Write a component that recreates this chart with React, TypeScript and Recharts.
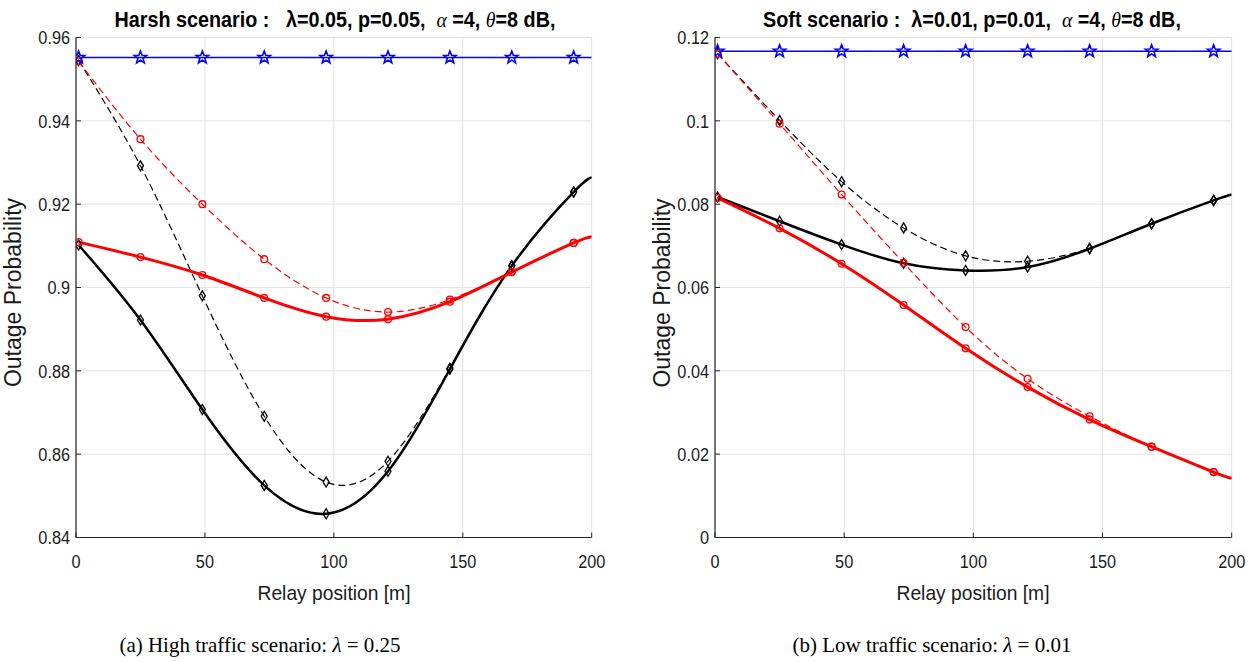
import React from 'react';
import { LineChart, Line, XAxis, YAxis, CartesianGrid } from 'recharts';

// ---------- data ----------
const xPositions = [1, 25, 49, 73, 97, 121, 145, 169, 193, 200];
const markerPositions = [1, 25, 49, 73, 97, 121, 145, 169, 193];

const xTicks = [0, 50, 100, 150, 200];
const xTickLabels = ['0', '50', '100', '150', '200'];

// (a) Harsh scenario
const harshYTicks = [0.84, 0.86, 0.88, 0.9, 0.92, 0.94, 0.96];
const harshYTickLabels = ['0.84', '0.86', '0.88', '0.9', '0.92', '0.94', '0.96'];
const harshBlue = [0.9552, 0.9552, 0.9552, 0.9552, 0.9552, 0.9552, 0.9552, 0.9552, 0.9552, 0.9552];
const harshRedDashed = [0.9543, 0.9356, 0.92, 0.9068, 0.8975, 0.8941, 0.8971, 0.9037, 0.9107, 0.9122];
const harshRedSolid = [0.9109, 0.9073, 0.903, 0.8975, 0.893, 0.8924, 0.8966, 0.9037, 0.9107, 0.9122];
const harshBlackSolid = [0.9102, 0.8922, 0.8707, 0.8525, 0.8457, 0.8559, 0.8804, 0.9052, 0.9229, 0.9264];
const harshBlackDashed = [0.9545, 0.9292, 0.898, 0.8691, 0.8533, 0.8583, 0.8806, 0.9052, 0.9229, 0.9264];

// (b) Soft scenario
const softYTicks = [0, 0.02, 0.04, 0.06, 0.08, 0.1, 0.12];
const softYTickLabels = ['0', '0.02', '0.04', '0.06', '0.08', '0.1', '0.12'];
const softBlue = [0.1167, 0.1167, 0.1167, 0.1167, 0.1167, 0.1167, 0.1167, 0.1167, 0.1167, 0.1167];
const softRedDashed = [0.1161, 0.0993, 0.0823, 0.0659, 0.0505, 0.0381, 0.0291, 0.0218, 0.0157, 0.0142];
const softRedSolid = [0.0815, 0.0742, 0.0657, 0.0558, 0.0454, 0.0361, 0.0283, 0.0218, 0.0157, 0.0142];
const softBlackSolid = [0.0817, 0.0759, 0.0703, 0.0658, 0.0641, 0.0649, 0.0693, 0.0753, 0.0809, 0.0823];
const softBlackDashed = [0.1161, 0.1001, 0.0854, 0.0743, 0.0676, 0.0663, 0.0694, 0.0753, 0.0809, 0.0823];

const buildRows = (blue: number[], rd: number[], rs: number[], bs: number[], bd: number[]) =>
  xPositions.map((x, i) => ({ x, blue: blue[i], rd: rd[i], rs: rs[i], bs: bs[i], bd: bd[i] }));

const harshRows = buildRows(harshBlue, harshRedDashed, harshRedSolid, harshBlackSolid, harshBlackDashed);
const softRows = buildRows(softBlue, softRedDashed, softRedSolid, softBlackSolid, softBlackDashed);

// ---------- styles ----------
const SANS = "'Liberation Sans', Arial, Helvetica, sans-serif";
const SERIF = "'Liberation Serif', 'Times New Roman', serif";
const AXIS = '#262626';
const GRID = '#e3e3e3';
const BLUE = '#0000ff';
const RED = '#ff0000';
const BLACK = '#000000';

const starPath = (cx: number, cy: number, R: number, r: number) => {
  const pts: string[] = [];
  for (let k = 0; k < 10; k++) {
    const rad = k % 2 === 0 ? R : r;
    const a = -Math.PI / 2 + (k * Math.PI) / 5;
    pts.push(`${(cx + rad * Math.cos(a)).toFixed(2)},${(cy + rad * Math.sin(a)).toFixed(2)}`);
  }
  return `M${pts.join('L')}Z`;
};

const makeDot = (kind: 'star' | 'circle' | 'diamond', color: string) => (props: any) => {
  const { cx, cy, payload, index } = props;
  const key = `dot-${kind}-${color}-${index}`;
  if (cx == null || cy == null || !payload || !markerPositions.includes(payload.x)) return <g key={key} />;
  if (kind === 'star')
    return <path key={key} d={starPath(cx, cy, 6.5, 2.7)} fill="none" stroke={color} strokeWidth={1.6} />;
  if (kind === 'circle')
    return <circle key={key} cx={cx} cy={cy} r={3.4} fill="none" stroke={color} strokeWidth={1.3} />;
  return (
    <path
      key={key}
      d={`M${cx},${cy - 5}L${cx + 3},${cy}L${cx},${cy + 5}L${cx - 3},${cy}Z`}
      fill="none"
      stroke={color}
      strokeWidth={1.3}
    />
  );
};

const makeYTick = (ticks: number[], labels: string[]) => (props: any) => {
  const { x, y, payload } = props;
  const i = ticks.findIndex((t) => Math.abs(t - payload.value) < 1e-9);
  return (
    <g>
      <line x1={x + 6} x2={x + 11} y1={y} y2={y} stroke={AXIS} strokeWidth={1} />
      <text
        x={0}
        y={0}
        dy="0.36em"
        transform={`translate(${x},${y}) scale(0.88,1)`}
        textAnchor="end"
        fontSize={18.5}
        fontFamily={SANS}
        fill="#1a1a1a"
      >
        {i >= 0 ? labels[i] : String(payload.value)}
      </text>
    </g>
  );
};

const XTick = (props: any) => {
  const { x, y, payload } = props;
  const i = xTicks.indexOf(payload.value);
  return (
    <g>
      <line x1={x} x2={x} y1={y - 6} y2={y - 11} stroke={AXIS} strokeWidth={1} />
      <text
        x={0}
        y={0}
        transform={`translate(${x},${y + 24.5}) scale(0.88,1)`}
        textAnchor="middle"
        fontSize={18.5}
        fontFamily={SANS}
        fill="#1a1a1a"
      >
        {i >= 0 ? xTickLabels[i] : String(payload.value)}
      </text>
    </g>
  );
};

type PanelProps = {
  rows: any[];
  yTicks: number[];
  yLabels: string[];
  left: number;
  width: number;
  marginLeft: number;
  marginRight: number;
};

const Panel = ({ rows, yTicks, yLabels, left, width, marginLeft, marginRight }: PanelProps) => (
  <div style={{ position: 'absolute', left, top: 0 }}>
    <LineChart
      width={width}
      height={600}
      data={rows}
      margin={{ top: 37.5, right: marginRight, left: marginLeft, bottom: 32.5 }}
    >
      <CartesianGrid stroke={GRID} strokeWidth={1} horizontalValues={yTicks} verticalValues={xTicks} />
      <XAxis
        type="number"
        dataKey="x"
        domain={[0, 200]}
        ticks={xTicks}
        allowDataOverflow
        height={30}
        tickSize={0}
        tickMargin={6}
        tickLine={false}
        axisLine={{ stroke: AXIS, strokeWidth: 1.2 }}
        tick={XTick}
        interval={0}
      />
      <YAxis
        type="number"
        domain={[yTicks[0], yTicks[yTicks.length - 1]]}
        ticks={yTicks}
        allowDataOverflow
        width={60}
        tickSize={0}
        tickMargin={6}
        tickLine={false}
        axisLine={{ stroke: AXIS, strokeWidth: 1.2 }}
        tick={makeYTick(yTicks, yLabels)}
        interval={0}
      />
      <Line
        type="natural"
        dataKey="bs"
        stroke={BLACK}
        strokeWidth={2.5}
        dot={makeDot('diamond', BLACK)}
        isAnimationActive={false}
      />
      <Line
        type="natural"
        dataKey="bd"
        stroke={BLACK}
        strokeWidth={1.2}
        strokeDasharray="7 4"
        dot={makeDot('diamond', BLACK)}
        isAnimationActive={false}
      />
      <Line
        type="natural"
        dataKey="rs"
        stroke={RED}
        strokeWidth={3}
        dot={makeDot('circle', RED)}
        isAnimationActive={false}
      />
      <Line
        type="natural"
        dataKey="rd"
        stroke={RED}
        strokeWidth={1.2}
        strokeDasharray="7 4"
        dot={makeDot('circle', RED)}
        isAnimationActive={false}
      />
      <Line
        type="linear"
        dataKey="blue"
        stroke={BLUE}
        strokeWidth={1.4}
        dot={makeDot('star', BLUE)}
        isAnimationActive={false}
      />
    </LineChart>
  </div>
);

const mathStyle = { fontStyle: 'italic', fontFamily: SERIF, fontWeight: 'normal' as const };

export default function App() {
  return (
    <div style={{ position: 'relative', width: 1255, height: 662, background: '#fff', overflow: 'hidden' }}>
      <style>{`body{margin:0;background:#fff}`}</style>
      <Panel
        rows={harshRows}
        yTicks={harshYTicks}
        yLabels={harshYTickLabels}
        left={0}
        width={620}
        marginLeft={16}
        marginRight={28.3}
      />
      <Panel
        rows={softRows}
        yTicks={softYTicks}
        yLabels={softYTickLabels}
        left={640}
        width={615}
        marginLeft={15}
        marginRight={23.3}
      />
      <svg
        width={1255}
        height={662}
        style={{ position: 'absolute', left: 0, top: 0, pointerEvents: 'none' }}
      >
        {/* titles */}
        <text
          transform="translate(335,27) scale(0.92,1)"
          textAnchor="middle"
          fontSize={21.5}
          fontWeight="bold"
          fontFamily={SANS}
          fill="#000"
          style={{ whiteSpace: 'pre' }}
        >
          {'Harsh scenario :   λ=0.05, p=0.05,  '}
          <tspan {...mathStyle}>α</tspan>
          {' =4, '}
          <tspan {...mathStyle}>θ</tspan>
          {'=8 dB,'}
        </text>
        <text
          transform="translate(972,27) scale(0.92,1)"
          textAnchor="middle"
          fontSize={21.5}
          fontWeight="bold"
          fontFamily={SANS}
          fill="#000"
          style={{ whiteSpace: 'pre' }}
        >
          {'Soft scenario :  λ=0.01, p=0.01,  '}
          <tspan {...mathStyle}>α</tspan>
          {' =4, '}
          <tspan {...mathStyle}>θ</tspan>
          {'=8 dB,'}
        </text>
        {/* y labels */}
        <text
          transform="translate(21,292.5) rotate(-90)"
          textAnchor="middle"
          fontSize={23}
          fontFamily={SANS}
          fill="#1a1a1a"
        >
          Outage Probability
        </text>
        <text
          transform="translate(670,293) rotate(-90)"
          textAnchor="middle"
          fontSize={23}
          fontFamily={SANS}
          fill="#1a1a1a"
        >
          Outage Probability
        </text>
        {/* x labels */}
        <text
          transform="translate(334,600) scale(0.94,1)"
          textAnchor="middle"
          fontSize={20.5}
          fontFamily={SANS}
          fill="#1a1a1a"
        >
          Relay position [m]
        </text>
        <text
          transform="translate(973,600) scale(0.94,1)"
          textAnchor="middle"
          fontSize={20.5}
          fontFamily={SANS}
          fill="#1a1a1a"
        >
          Relay position [m]
        </text>
        {/* captions */}
        <text x={260} y={652} textAnchor="middle" fontSize={21} fontFamily={SERIF} fill="#000" style={{ whiteSpace: 'pre' }}>
          {'(a) High traffic scenario: '}
          <tspan fontStyle="italic">λ</tspan>
          {' = 0.25'}
        </text>
        <text x={932} y={652} textAnchor="middle" fontSize={21} fontFamily={SERIF} fill="#000" style={{ whiteSpace: 'pre' }}>
          {'(b) Low traffic scenario: '}
          <tspan fontStyle="italic">λ</tspan>
          {' = 0.01'}
        </text>
      </svg>
    </div>
  );
}
